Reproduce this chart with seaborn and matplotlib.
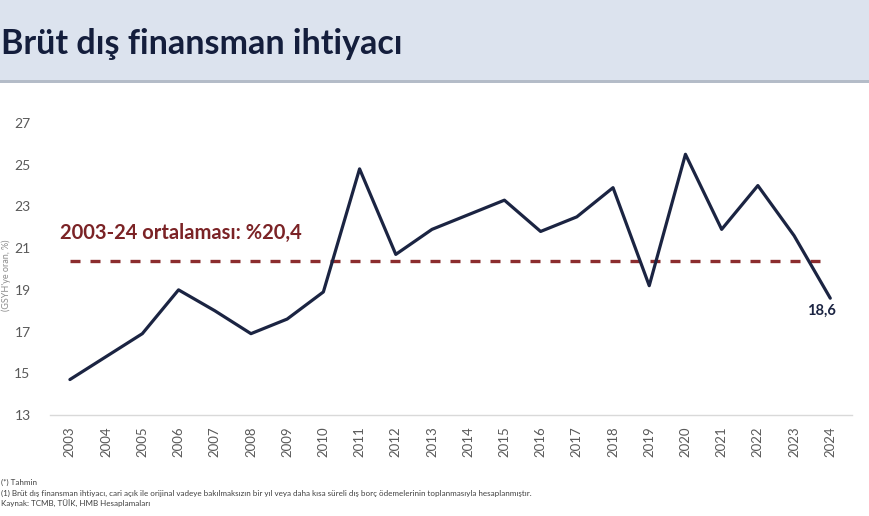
import matplotlib
matplotlib.use("Agg")
import matplotlib.pyplot as plt
from matplotlib.patches import Rectangle
import seaborn as sns
import pandas as pd

years = list(range(2003, 2025))
values = [14.7, 15.8, 16.9, 19.0, 18.0, 16.9, 17.6, 18.9, 24.8, 20.7, 21.9,
          22.6, 23.3, 21.8, 22.5, 23.9, 19.2, 25.5, 21.9, 24.0, 21.6, 18.6]
avg_value = 20.4
avg_label = "2003-24 ortalaması: %20,4"
last_label = "18,6"
y_ticks = [13, 15, 17, 19, 21, 23, 25, 27]
title = "Brüt dış finansman ihtiyacı"
y_label = "(GSYH'ye oran, %)"
footnotes = [
    "(*) Tahmin",
    "(1) Brüt dış finansman ihtiyacı, cari açık ile orijinal vadeye bakılmaksızın bir yıl veya daha kısa süreli dış borç ödemelerinin toplanmasıyla hesaplanmıştır.",
    "Kaynak: TCMB, TÜİK, HMB Hesaplamaları",
]

df = pd.DataFrame({"year": years, "value": values})

sns.set_theme(style="white")
plt.rcParams["font.family"] = ["Lato", "DejaVu Sans"]

W, H = 870, 516
fig = plt.figure(figsize=(8.7, 5.16), dpi=100)
fig.patch.set_facecolor("white")

# Title band
fig.patches.append(Rectangle((0, 1 - 80 / H), 1, 80 / H, transform=fig.transFigure,
                             facecolor="#DCE3EE", edgecolor="none", zorder=0))
fig.patches.append(Rectangle((0, 1 - 83 / H), 1, 3 / H, transform=fig.transFigure,
                             facecolor="#B4BCC8", edgecolor="none", zorder=0))
fig.text(1 / W, 1 - 44 / H, title, fontsize=24.5, fontweight="bold", color="#141E3C",
         va="center", ha="left")

ax = fig.add_axes([50 / W, 1 - 415 / H, (852 - 50) / W, (415 - 123) / H])
navy = "#1B2442"
sns.lineplot(data=df, x="year", y="value", ax=ax, color=navy, linewidth=2.3)
ax.hlines(avg_value, years[0], years[-1] - 0.2, colors="#8B2C2E", linestyles=(0, (3.0, 3.0)),
          linewidth=2.4, zorder=1)

ax.text(years[0] - 0.27, avg_value + 1.35, avg_label, color="#7B2326", fontsize=14.5,
        fontweight="bold", ha="left", va="center")
ax.text(years[-1] - 0.25, values[-1] - 0.62, last_label, color=navy, fontsize=10.5,
        fontweight="bold", ha="center", va="center")

ax.set_xlim(years[0] - 0.55, years[-1] + 0.6)
ax.set_ylim(13, 27)
ax.set_xticks(years)
ax.set_xticklabels([str(y) for y in years], rotation=90, fontsize=9.5, color="#595959")
ax.set_yticks(y_ticks)
ax.set_yticklabels([str(t) for t in y_ticks], fontsize=10, color="#595959")
ax.tick_params(axis="both", length=0, pad=8)
ax.tick_params(axis="y", pad=14)
ax.set_xlabel("")
ax.set_ylabel("")
for s in ["top", "right", "left"]:
    ax.spines[s].set_visible(False)
ax.spines["bottom"].set_color("#D9D9D9")
ax.spines["bottom"].set_linewidth(1.0)

fig.text(1 / W, 1 - 275 / H, y_label, rotation=90, fontsize=6.5,
         color="#8C8C8C", ha="left", va="center")

fy = [482, 493, 504]
for t, y in zip(footnotes, fy):
    fig.text(1 / W, 1 - y / H, t, fontsize=5.8, color="#404040", ha="left", va="center")

fig.savefig("out.png", dpi=100)
